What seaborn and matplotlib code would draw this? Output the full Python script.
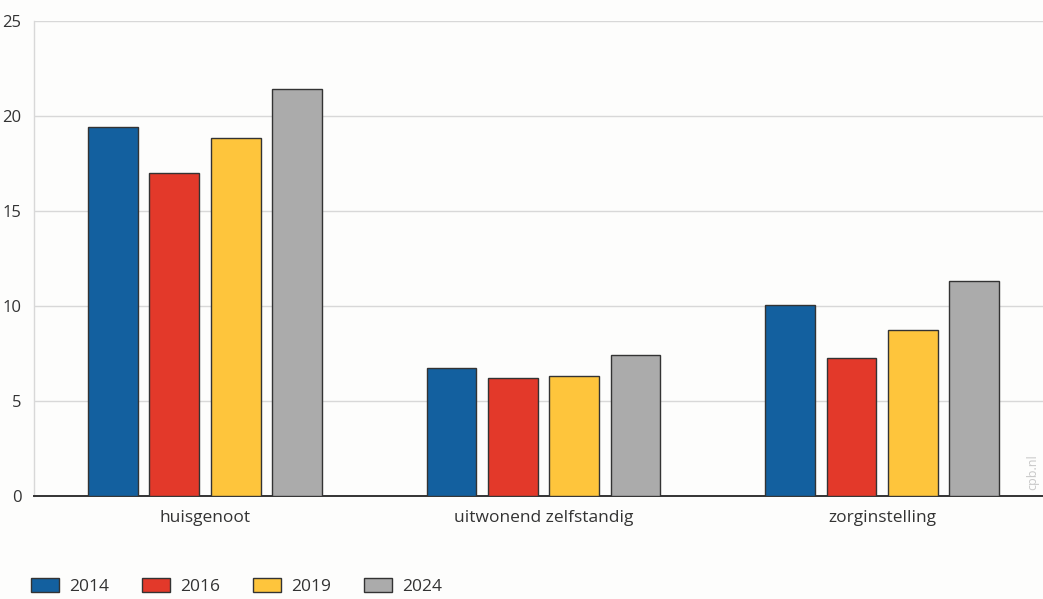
import pandas as pd
import matplotlib.pyplot as plt
import seaborn as sns

categories = ["huisgenoot", "uitwonend zelfstandig", "zorginstelling"]
years = ["2014", "2016", "2019", "2024"]
values_2014 = [19.4, 6.75, 10.05]
values_2016 = [17.0, 6.2, 7.25]
values_2019 = [18.85, 6.3, 8.75]
values_2024 = [21.4, 7.4, 11.3]
colors = ["#13609f", "#e3392a", "#fec53c", "#ababab"]

rows = []
for year, vals in zip(years, [values_2014, values_2016, values_2019, values_2024]):
    for cat, v in zip(categories, vals):
        rows.append({"categorie": cat, "jaar": year, "waarde": v})
df = pd.DataFrame(rows)

sns.set_theme(style="white")
plt.rcParams["font.family"] = ["Open Sans", "DejaVu Sans"]

bg = "#fdfdfc"
fig = plt.figure(figsize=(10.43, 5.99), dpi=100, facecolor=bg)
ax = fig.add_axes([34 / 1043, 103 / 599, 1 - 34 / 1043, 475 / 599])
ax.set_facecolor(bg)

sns.barplot(
    data=df, x="categorie", y="waarde", hue="jaar",
    order=categories, hue_order=years, palette=colors, saturation=1,
    width=0.725, gap=0.19, edgecolor="#333333", linewidth=1,
    ax=ax, zorder=3,
)

ax.set_ylim(0, 25)
ax.set_xlim(-0.505, 2.475)
ax.set_yticks([0, 5, 10, 15, 20, 25])
ax.yaxis.grid(True, color="#d8d8d8", linewidth=1, zorder=0)
ax.set_axisbelow(True)
ax.set_xlabel("")
ax.set_ylabel("")
ax.tick_params(axis="both", length=0, colors="#333333")
ax.tick_params(axis="x", pad=10, labelsize=12.5)
ax.tick_params(axis="y", pad=9, labelsize=12)

for s in ["top", "right"]:
    ax.spines[s].set_visible(False)
ax.spines["left"].set_color("#d8d8d8")
ax.spines["left"].set_linewidth(1)
ax.spines["bottom"].set_color("#333333")
ax.spines["bottom"].set_linewidth(1.4)

ax.text(0.99, 0.012, "cpb.nl", transform=ax.transAxes, rotation=90,
        fontsize=9, color="#c8c8c8", ha="center", va="bottom")

leg = ax.legend(loc="lower left", bbox_to_anchor=(-0.003, -0.208), ncol=4,
                frameon=False, fontsize=12.5, handlelength=1.6, handleheight=0.85,
                handletextpad=0.6, columnspacing=1.9, borderaxespad=0,
                borderpad=0)
for t in leg.get_texts():
    t.set_color("#333333")

fig.savefig("out.png", dpi=100, facecolor=bg)
